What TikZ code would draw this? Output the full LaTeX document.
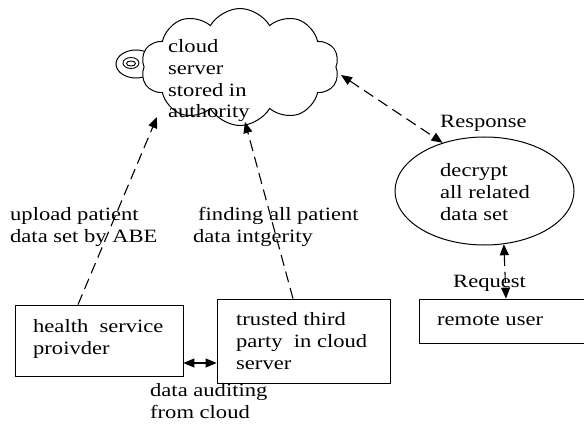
\documentclass[tikz,border=0pt]{standalone}
\usepackage{fontspec}
\setmainfont{Liberation Serif}[FakeStretch=1.2]
\usetikzlibrary{shapes.symbols,shapes.geometric,arrows.meta}
\begin{document}
\begin{tikzpicture}[x=1pt,y=-1pt,
  lbl/.style={font=\fontsize{18.8}{22}\selectfont, inner sep=0pt, anchor=base west, align=left},
  boxnode/.style={draw, line width=0.8pt, rectangle, inner sep=0pt},
  dashline/.style={dash pattern=on 11pt off 6pt, line width=1.1pt},
  onehead/.style={-{Triangle[length=11pt,width=9pt]}},
  twoheads/.style={{Triangle[length=11pt,width=9pt]}-{Triangle[length=11pt,width=9pt]}}
]
\clip (0,0) rectangle (584,425);
\fill[white] (0,0) rectangle (584,425);

% cloud with its small tail
\node[ellipse, draw, line width=1pt, minimum width=40pt, minimum height=28pt, inner sep=0pt] (tail) at (136,64) {};
\node[cloud, draw, fill=white, line width=1pt, cloud puffs=10, cloud puff arc=120, aspect=1.7,
      minimum width=198pt, minimum height=117pt, inner sep=0pt] (cloud) at (240,67) {};
\node[ellipse, draw, line width=0.9pt, minimum width=16pt, minimum height=11pt, inner sep=0pt] (tailin) at (131,63) {};
\node[ellipse, draw, line width=0.9pt, minimum width=9pt, minimum height=5pt, inner sep=0pt] (tailcore) at (131,63.5) {};

% other shapes
\node[ellipse, draw, line width=1pt, minimum width=179pt, minimum height=108pt, inner sep=0pt] (dec) at (484.5,191) {};
\node[boxnode, minimum width=168pt, minimum height=71pt] (health) at (99,340.5) {};
\node[boxnode, minimum width=173pt, minimum height=84pt] (trusted) at (303.5,341) {};
\node[boxnode, minimum width=174pt, minimum height=44pt] (remote) at (506,321) {};

% texts (anchor = baseline of the last line)
\node[lbl] (cloudtxt) at (168,118) {cloud\\server\\stored in\\authority};
\node[lbl] (dectxt) at (440,221) {decrypt\\all related\\data set};
\node[lbl] (resp) at (440,128) {Response};
\node[lbl] (req) at (453,287) {Request};
\node[lbl] (remtxt) at (437,325) {remote user};
\node[lbl] (tttxt) at (236,369) {trusted third\\party\ \ in cloud\\server};
\node[lbl] (hsptxt) at (33,354) {health\ \ service\\proivder};
\node[lbl] (audtxt) at (150,418) {data auditing\\from cloud};
\node[lbl] (uptxt) at (10,242) {upload patient\\data set by ABE};
\node[lbl] (findtxt) at (193,242) {\hspace*{5pt}finding all patient\\data intgerity};

% connector end points on the cloud
\coordinate (cin1) at (157,117);
\coordinate (cin2) at (245,122);
\coordinate (cout) at (341,75);

% connectors
\draw[dashline, onehead] ([xshift=-21pt]health.north) -- (cin1);
\draw[dashline, onehead] ([xshift=-10.5pt]trusted.north) -- (cin2);
\draw[dashline, twoheads] (cout) -- (dec.131);
\draw[dashline, twoheads] (dec.-70) -- (remote.north);
\draw[line width=1.1pt, twoheads] ([yshift=-22.5pt]health.east) -- ([yshift=-22.5pt]health.east -| trusted.west);
\end{tikzpicture}
\end{document}
